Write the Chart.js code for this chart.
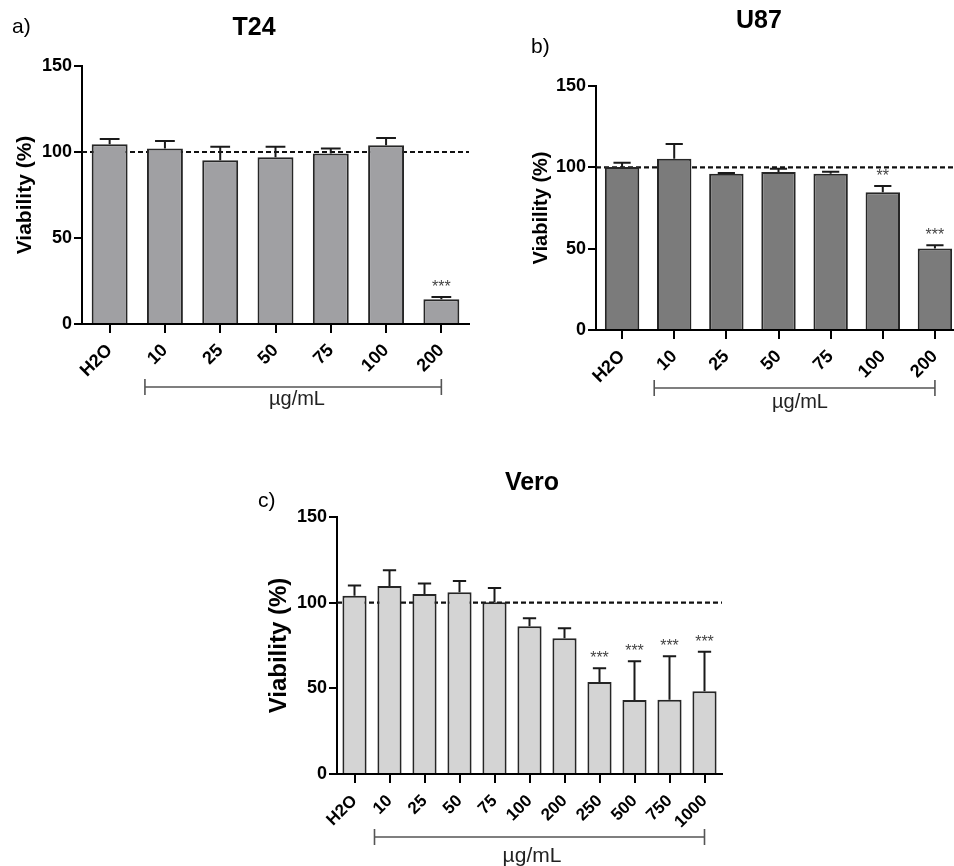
<!DOCTYPE html>
<html>
<head>
<meta charset="utf-8">
<title>Viability</title>
<script src="https://cdn.jsdelivr.net/npm/chart.js@4.4.0/dist/chart.umd.min.js"></script>
<style>
    html, body { margin: 0; padding: 0; background: #fff; width: 954px; height: 866px; overflow: hidden; }
    .panel { position: absolute; }
</style>
</head>
<body>
<div class="panel" style="left:0;top:0"><canvas id="chart-t24" width="480" height="420"></canvas></div>
<div class="panel" style="left:480px;top:0"><canvas id="chart-u87" width="490" height="420"></canvas></div>
<div class="panel" style="left:240px;top:460px"><canvas id="chart-vero" width="500" height="406"></canvas></div>

<script>
    // shared axis values
    var yTicks = [0, 50, 100, 150];
    var refLevel = 100;

    // a) T24
    var t24Labels = ['H2O', '10', '25', '50', '75', '100', '200'];
    var t24Mean = [104.5, 102.1, 95.2, 96.9, 99.2, 103.9, 14.4];
    var t24Sem = [3.1, 4.3, 7.9, 6.2, 2.9, 4.2, 1.3];
    var t24Stars = ['', '', '', '', '', '', '***'];

    // b) U87
    var u87Labels = ['H2O', '10', '25', '50', '75', '100', '200'];
    var u87Mean = [100.2, 105.3, 96.1, 97.1, 96.1, 84.7, 50.1];
    var u87Sem = [2.6, 9.0, 0.4, 2.0, 1.2, 3.8, 2.0];
    var u87Stars = ['', '', '', '', '', '**', '***'];

    // c) Vero
    var veroLabels = ['H2O', '10', '25', '50', '75', '100', '200', '250', '500', '750', '1000'];
    var veroMean = [104.0, 109.8, 105.1, 106.1, 100.3, 86.3, 79.3, 53.7, 43.2, 43.4, 48.3];
    var veroSem = [6.0, 9.1, 6.1, 6.5, 8.3, 4.6, 5.8, 8.0, 22.6, 25.3, 23.0];
    var veroStars = ['', '', '', '', '', '', '', '***', '***', '***', '***'];

    var FONT = '"Liberation Sans", Arial, Helvetica, sans-serif';
    Chart.defaults.font.family = FONT;
    Chart.defaults.color = '#000';

    // titles, reference line, error bars, stars and the concentration bracket
    var extrasPlugin = {
        id: 'extras',
        beforeDatasetsDraw: function (chart, args, opts) {
            var ctx = chart.ctx, area = chart.chartArea;
            var y = chart.scales.y.getPixelForValue(refLevel);
            ctx.save();
            ctx.strokeStyle = '#111';
            ctx.lineWidth = 2.2;
            ctx.setLineDash([5, 3]);
            ctx.beginPath();
            ctx.moveTo(area.left, y);
            ctx.lineTo(area.right, y);
            ctx.stroke();
            ctx.restore();
        },
        afterDatasetsDraw: function (chart, args, opts) {
            var ctx = chart.ctx;
            var ds = chart.data.datasets[0];
            var yScale = chart.scales.y;
            ctx.save();
            chart.getDatasetMeta(0).data.forEach(function (bar, i) {
                var p = bar.getProps(['x', 'y', 'width'], true);
                var yTop = yScale.getPixelForValue(ds.data[i] + ds.sem[i]);
                var half = p.width * opts.capFrac / 2;
                ctx.strokeStyle = '#1a1a1a';
                ctx.lineWidth = 2;
                ctx.beginPath();
                ctx.moveTo(p.x, p.y);
                ctx.lineTo(p.x, yTop);
                ctx.moveTo(p.x - half, yTop);
                ctx.lineTo(p.x + half, yTop);
                ctx.stroke();
                if (ds.stars[i]) {
                    ctx.fillStyle = '#444';
                    ctx.font = '16px ' + FONT;
                    ctx.textAlign = 'center';
                    ctx.textBaseline = 'alphabetic';
                    ctx.fillText(ds.stars[i], p.x, yTop - 5);
                }
            });
            ctx.restore();
        },
        afterDraw: function (chart, args, opts) {
            var ctx = chart.ctx, area = chart.chartArea, x = chart.scales.x;
            var n = chart.data.labels.length;
            ctx.save();
            // panel title and letter
            ctx.fillStyle = '#000';
            ctx.textBaseline = 'middle';
            ctx.textAlign = 'center';
            ctx.font = 'bold ' + opts.titleSize + 'px ' + FONT;
            ctx.fillText(opts.title, opts.titleX, opts.titleY);
            ctx.textAlign = 'left';
            ctx.font = '21px ' + FONT;
            ctx.fillText(opts.letter, opts.letterX, opts.letterY);
            // bracket under the concentrations
            var x0 = x.getPixelForValue(1) - opts.bracketInset;
            var x1 = x.getPixelForValue(n - 1);
            var by = area.bottom + opts.bracketDy;
            ctx.strokeStyle = '#555';
            ctx.lineWidth = 1.6;
            ctx.beginPath();
            ctx.moveTo(x0, by);
            ctx.lineTo(x1, by);
            ctx.moveTo(x0, by - 8);
            ctx.lineTo(x0, by + 8);
            ctx.moveTo(x1, by - 8);
            ctx.lineTo(x1, by + 8);
            ctx.stroke();
            ctx.fillStyle = '#222';
            ctx.textAlign = 'center';
            ctx.font = opts.unitSize + 'px ' + FONT;
            ctx.fillText('µg/mL', opts.unitX, area.bottom + opts.unitDy);
            ctx.restore();
        }
    };

    function buildChart(canvasId, labels, means, sems, stars, style) {
        var ctx = document.getElementById(canvasId).getContext('2d');
        return new Chart(ctx, {
            type: 'bar',
            data: {
                labels: labels,
                datasets: [{
                    data: means,
                    sem: sems,
                    stars: stars,
                    backgroundColor: style.barColor,
                    borderColor: '#262626',
                    borderWidth: 2,
                    barPercentage: 1,
                    categoryPercentage: style.catPct
                }]
            },
            options: {
                responsive: false,
                animation: false,
                layout: {padding: style.padding},
                plugins: {
                    legend: {display: false},
                    tooltip: {enabled: false},
                    extras: style.extras
                },
                scales: {
                    x: {
                        grid: {offset: false, drawOnChartArea: false, tickLength: 9, tickColor: '#000', lineWidth: 2},
                        border: {color: '#000', width: 2},
                        ticks: {
                            font: {size: style.xTickSize, weight: 'bold'},
                            color: '#000',
                            minRotation: 45, maxRotation: 45,
                            padding: style.xTickPad, autoSkip: false
                        },
                        afterFit: function (s) { s.height = style.xHeight; }
                    },
                    y: {
                        min: 0, max: 150,
                        afterBuildTicks: function (s) {
                            s.ticks = yTicks.map(function (v) { return {value: v}; });
                        },
                        ticks: {font: {size: 18, weight: 'bold'}, color: '#000', padding: 2},
                        grid: {drawOnChartArea: false, tickLength: 8, tickColor: '#000', lineWidth: 2},
                        border: {color: '#000', width: 2},
                        title: {
                            display: true,
                            text: 'Viability (%)',
                            font: {size: style.yTitleSize, weight: 'bold'},
                            color: '#000',
                            padding: {top: style.yTitlePad, bottom: 0}
                        },
                        afterFit: function (s) { s.width = style.yWidth; }
                    }
                }
            },
            plugins: [extrasPlugin]
        });
    }

    buildChart('chart-t24', t24Labels, t24Mean, t24Sem, t24Stars, {
        barColor: '#a0a0a3', catPct: 0.65,
        padding: {top: 66, left: 10, right: 11, bottom: 26},
        yWidth: 72, xHeight: 70, xTickSize: 18, xTickPad: 7, yTitleSize: 21, yTitlePad: 3,
        extras: {
            title: 'T24', titleSize: 25, titleX: 254, titleY: 28,
            letter: 'a)', letterX: 12, letterY: 27,
            capFrac: 0.55, bracketInset: 20, bracketDy: 63,
            unitX: 297, unitDy: 75, unitSize: 20
        }
    });

    buildChart('chart-u87', u87Labels, u87Mean, u87Sem, u87Stars, {
        barColor: '#7b7b7b', catPct: 0.66,
        padding: {top: 86, left: 40, right: 9, bottom: 20},
        yWidth: 76, xHeight: 70, xTickSize: 18, xTickPad: 7, yTitleSize: 20, yTitlePad: 9,
        extras: {
            title: 'U87', titleSize: 25, titleX: 279, titleY: 21,
            letter: 'b)', letterX: 51, letterY: 47,
            capFrac: 0.5, bracketInset: 20, bracketDy: 58,
            unitX: 320, unitDy: 72, unitSize: 20
        }
    });

    buildChart('chart-vero', veroLabels, veroMean, veroSem, veroStars, {
        barColor: '#d4d4d4', catPct: 0.69,
        padding: {top: 57, left: 20, right: 18, bottom: 22},
        yWidth: 77, xHeight: 70, xTickSize: 17, xTickPad: 8, yTitleSize: 24, yTitlePad: 5,
        extras: {
            title: 'Vero', titleSize: 25, titleX: 292, titleY: 23,
            letter: 'c)', letterX: 18, letterY: 41,
            capFrac: 0.55, bracketInset: 15, bracketDy: 63,
            unitX: 292, unitDy: 82, unitSize: 21
        }
    });
</script>
</body>
</html>
